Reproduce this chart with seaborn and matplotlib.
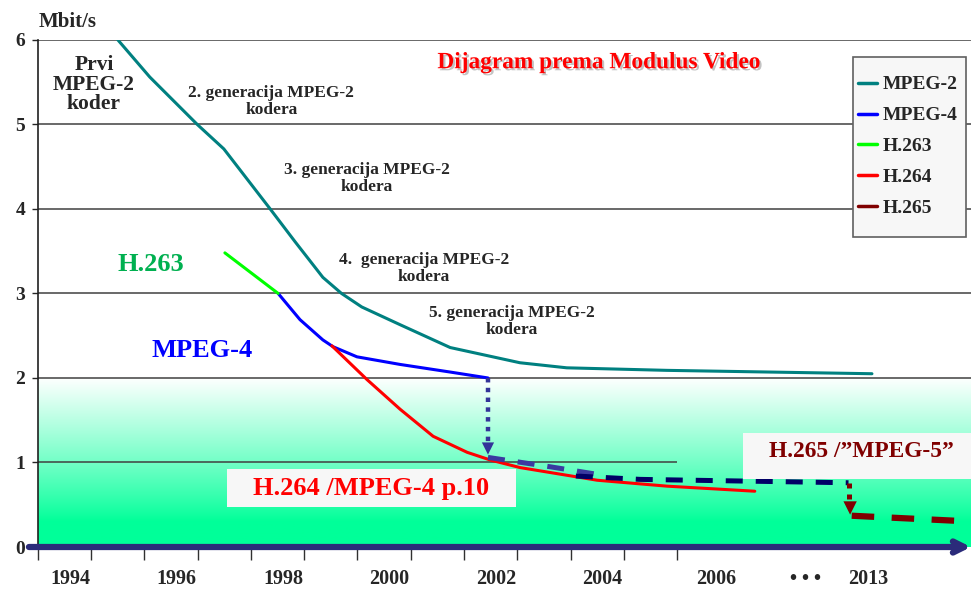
import numpy as np
import pandas as pd
import seaborn as sns
import matplotlib.pyplot as plt
import matplotlib.patheffects as pe
from matplotlib.lines import Line2D
from matplotlib.patches import Rectangle

# ---------------------------------------------
# PODACI (ocitano s dijagrama)
# ---------------------------------------------
mpeg2_x = [1995.0, 1995.6, 1996.49, 1996.99, 1997.86, 1998.33, 1998.85, 1999.2,
           1999.58, 2000.3, 2001.24, 2002.55, 2003.43, 2005.31, 2009.16]
mpeg2_y = [6.0, 5.56, 5.0, 4.71, 4.0, 3.61, 3.19, 3.0, 2.84, 2.63, 2.36, 2.18,
           2.12, 2.09, 2.05]

h263_x = [1997.01, 1998.01]
h263_y = [3.48, 3.0]

mpeg4_x = [1998.01, 1998.42, 1998.85, 1999.04, 1999.49, 2000.3, 2001.24, 2001.95]
mpeg4_y = [3.0, 2.69, 2.45, 2.37, 2.25, 2.16, 2.07, 2.0]

h264_x = [1999.02, 1999.68, 2000.3, 2000.92, 2001.56, 2001.99, 2002.55, 2004.0,
          2005.31, 2006.96]
h264_y = [2.38, 1.98, 1.63, 1.31, 1.12, 1.03, 0.94, 0.79, 0.72, 0.66]

# strelice / trend prema H.265
trend1_x = [2001.95, 2003.11, 2004.0]
trend1_y = [1.06, 0.95, 0.86]
trend2_x = [2003.6, 2004.81, 2008.72]
trend2_y = [0.84, 0.80, 0.76]
h265_x = [2008.78, 2010.75]
h265_y = [0.37, 0.31]

year_ticks = [1993.5 + k for k in range(13)]
year_label_pos = [1994.11, 1996.09, 1998.1, 2000.09, 2002.1, 2004.09, 2006.24,
                  2007.92, 2009.09]
year_labels = ['1994', '1996', '1998', '2000', '2002', '2004', '2006', '• • •', '2013']

kodeki = ['MPEG-2', 'MPEG-4', 'H.263', 'H.264', 'H.265']
boje = {'MPEG-2': '#008080', 'MPEG-4': '#0000FF', 'H.263': '#00FF00',
        'H.264': '#FF0000', 'H.265': '#800000'}

df = pd.concat([
    pd.DataFrame({'godina': mpeg2_x, 'mbit': mpeg2_y, 'kodek': 'MPEG-2'}),
    pd.DataFrame({'godina': mpeg4_x, 'mbit': mpeg4_y, 'kodek': 'MPEG-4'}),
    pd.DataFrame({'godina': h263_x, 'mbit': h263_y, 'kodek': 'H.263'}),
    pd.DataFrame({'godina': h264_x, 'mbit': h264_y, 'kodek': 'H.264'}),
], ignore_index=True)

# ---------------------------------------------
# CRTANJE
# ---------------------------------------------
sns.set_style('white')
plt.rcParams['font.family'] = ['Liberation Serif', 'DejaVu Serif']
plt.rcParams['font.weight'] = 'bold'

XMIN, XMAX = 1993.5, 2011.02

fig = plt.figure(figsize=(9.71, 5.89), dpi=100)
ax = fig.add_axes([0.0391, 0.0713, 0.9609, 0.861])

# zeleni gradijent u donjem dijelu (bijelo kod 2, puna zelena ispod ~0.3)
yy = np.linspace(0, 2.0, 300)[:, None]
t = np.clip((yy - 0.3) / 1.7, 0, 1) ** 0.9
green = np.array([0.0, 1.0, 0.6])
grad = (1 - t)[..., None] * green + t[..., None] * np.array([1.0, 1.0, 1.0])
grad = np.repeat(grad, 2, axis=1)
ax.imshow(grad, extent=[XMIN, XMAX, 0, 2.0], aspect='auto', origin='lower',
          zorder=0)

# mreza
for yv in [2, 3, 4, 5, 6]:
    ax.axhline(yv, color='#404040', lw=1.1, zorder=1)
ax.hlines(1, XMIN, 2005.5, color='#404040', lw=1.1, zorder=1)

sns.lineplot(data=df, x='godina', y='mbit', hue='kodek', palette=boje,
             sort=False, estimator=None, legend=False, lw=2.2, ax=ax, zorder=3)

# isprekidane strelice
ax.plot([mpeg4_x[-1], mpeg4_x[-1]], [mpeg4_y[-1], 1.22], ls=(0, (1, 1.2)),
        lw=3.2, color='#333399', zorder=4)
ax.annotate('', xy=(mpeg4_x[-1], trend1_y[0]), xytext=(mpeg4_x[-1], 1.25),
            arrowprops=dict(arrowstyle='-|>', color='#333399', lw=0,
                            mutation_scale=22), zorder=4)
ax.plot(trend1_x, trend1_y, ls=(0, (3.4, 2.6)), lw=3.6, color='#3A3AA0', zorder=4)
ax.plot(trend2_x, trend2_y, ls=(0, (3.4, 2.6)), lw=3.6, color='#000066', zorder=4)
ax.plot([trend2_x[-1], trend2_x[-1]], [trend2_y[-1], 0.55], ls=(0, (1, 1.2)),
        lw=3.6, color='#800000', zorder=4)
ax.annotate('', xy=(trend2_x[-1] + 0.03, h265_y[0] - 0.02),
            xytext=(trend2_x[-1] + 0.03, 0.56),
            arrowprops=dict(arrowstyle='-|>', color='#800000', lw=0,
                            mutation_scale=24), zorder=4)
ax.plot(h265_x, h265_y, ls=(0, (3.6, 2.8)), lw=4.5, color='#800000', zorder=4)

# x os (debela linija sa strelicom)
ax.annotate('', xy=(XMAX, 0), xytext=(XMIN - 0.17, 0), xycoords='data',
            arrowprops=dict(arrowstyle='->', color='#2B2B7A', lw=4.5,
                            mutation_scale=20, shrinkA=0, shrinkB=0),
            annotation_clip=False, zorder=6)

ax.set_xlim(XMIN, XMAX)
ax.set_ylim(0, 6)
for s in ['top', 'right', 'bottom']:
    ax.spines[s].set_visible(False)
ax.spines['left'].set_color('#202020')
ax.spines['left'].set_linewidth(1.2)

ax.set_xticks(year_ticks)
ax.set_xticklabels([])
ax.set_xticks(year_label_pos, minor=True)
ax.set_xticklabels(year_labels, minor=True, fontsize=14.5, fontweight='bold')
ax.tick_params(axis='x', which='major', direction='out', length=9, width=1,
               color='#303030', bottom=True)
ax.tick_params(axis='x', which='minor', length=0, pad=16)
ax.set_yticks(range(7))
ax.set_yticklabels([str(v) for v in range(7)], fontsize=14, fontweight='bold')
ax.tick_params(axis='y', direction='out', length=4.3, width=1, pad=5, left=True)
ax.set_xlabel('')
ax.set_ylabel('')

# tekstovi
ax.text(1994.06, 6.21, 'Mbit/s', fontsize=15, fontweight='bold', ha='center',
        va='center', clip_on=False)
ax.text(1994.55, 5.47, 'Prvi\nMPEG-2\nkoder', fontsize=15.5, fontweight='bold',
        ha='center', va='center', linespacing=0.98)
gen_txt = [(1997.88, 5.27, '2. generacija MPEG-2\nkodera'),
           (1999.67, 4.36, '3. generacija MPEG-2\nkodera'),
           (2000.75, 3.30, '4.  generacija MPEG-2\nkodera'),
           (2002.39, 2.67, '5. generacija MPEG-2\nkodera')]
for gx, gy, tx in gen_txt:
    ax.text(gx, gy, tx, fontsize=12.5, fontweight='bold', ha='center',
            va='center', linespacing=1.08)
ax.text(2004.04, 5.73, 'Dijagram prema Modulus Video', fontsize=16.8,
        fontweight='bold', color='#FF0000', ha='center', va='center',
        path_effects=[pe.withSimplePatchShadow(offset=(1.5, -1.5),
                                               shadow_rgbFace='#888888',
                                               alpha=0.5)])
ax.text(1995.62, 3.34, 'H.263', fontsize=19, fontweight='bold', color='#00B050',
        ha='center', va='center')
ax.text(1996.59, 2.33, 'MPEG-4', fontsize=19, fontweight='bold', color='#0000FF',
        ha='center', va='center')

# okviri za natpise
ax.add_patch(Rectangle((1997.05, 0.47), 5.43, 0.45, fc='#F7F7F7', ec='none',
                       zorder=5))
ax.text(1999.76, 0.69, 'H.264 /MPEG-4 p.10', fontsize=19, fontweight='bold',
        color='#FF0000', ha='center', va='center', zorder=6)
ax.add_patch(Rectangle((2006.74, 0.80), XMAX - 2006.74, 0.55, fc='#F7F7F7',
                       ec='none', zorder=5))
ax.text(2008.97, 1.13, 'H.265 /\u201dMPEG-5\u201d', fontsize=16.8, fontweight='bold',
        color='#800000', ha='center', va='center', zorder=6)

# legenda: okvir posebno, unosi bez okvira
ax.add_patch(Rectangle((0.8735, 0.6114), 0.1211, 0.355, transform=ax.transAxes,
                       fc='#F7F7F7', ec='#606060', lw=1.2, zorder=7,
                       clip_on=False))
handles = [Line2D([], [], color=boje[k], lw=2.5) for k in kodeki]
leg = ax.legend(handles, kodeki, loc='upper left', bbox_to_anchor=(0.8789, 0.929),
                frameon=False, handlelength=1.0, handletextpad=0.28,
                labelspacing=0.68, borderpad=0, borderaxespad=0,
                prop={'weight': 'bold', 'size': 14})
leg.set_zorder(8)

fig.savefig('out.png', dpi=100)
